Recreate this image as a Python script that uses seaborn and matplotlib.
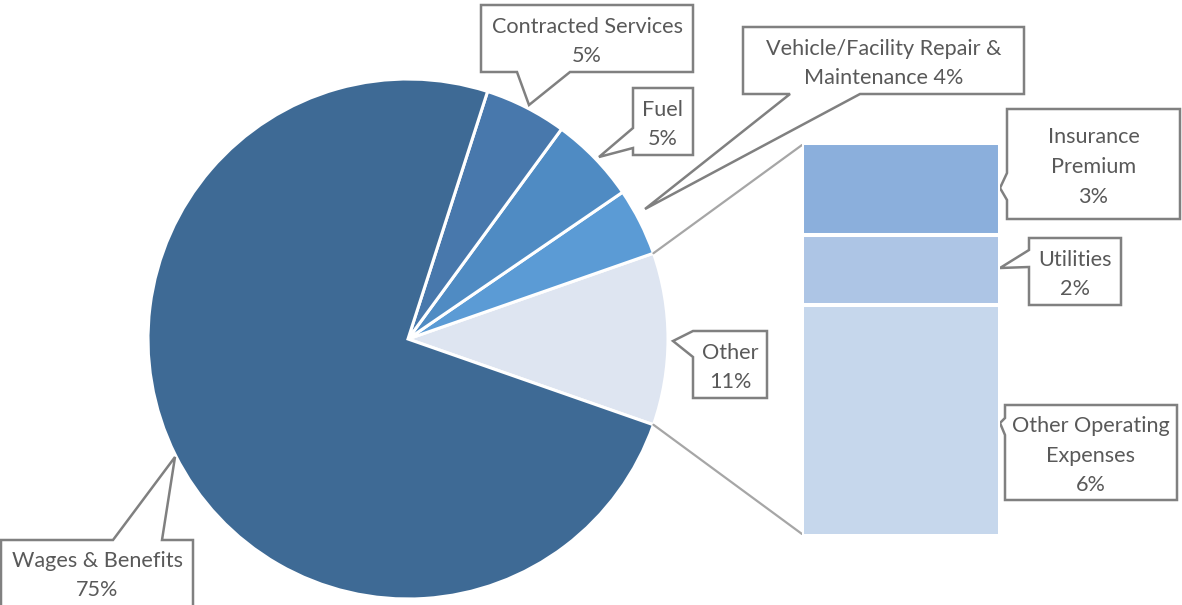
import numpy as np
import matplotlib
matplotlib.use("Agg")
import matplotlib.pyplot as plt
from matplotlib.patches import Polygon
import seaborn as sns

# ---- data ----
pie_labels = ["Other", "Vehicle/Facility Repair &\nMaintenance", "Fuel", "Contracted Services", "Wages & Benefits"]
pie_values = [10.7, 4.2, 5.4, 5.1, 74.6]
pie_seps = ["\n", " ", "\n", "\n", "\n"]
pie_colors = ["#DEE5F1", "#5B9BD5", "#4F8BC3", "#4878AC", "#3E6A95"]

bar_labels = ["Other Operating\nExpenses", "Utilities", "Insurance\nPremium"]
bar_values = [6.3, 1.9, 2.5]
bar_colors = ["#C6D7EC", "#ADC5E5", "#8BAFDC"]

W, H = 1182, 605
sns.set_theme(style="white")
plt.rcParams["font.family"] = ["Lato", "DejaVu Sans"]

fig = plt.figure(figsize=(W / 100, H / 100), dpi=100)
ax = fig.add_axes([0, 0, 1, 1])

cx, cy, R = 408, H - 339, 260
start = -pie_values[0] * 3.6 / 2
ax.pie(pie_values, colors=pie_colors, startangle=start, counterclock=True,
       center=(cx, cy), radius=R,
       wedgeprops=dict(edgecolor="white", linewidth=2.2))
ax.set_xlim(0, W)
ax.set_ylim(0, H)
ax.set_aspect("equal")
ax.axis("off")

# bar of "Other"
bx0, bx1, by_top, by_bot = 804, 998, 145, 534
pad = 2
bax = fig.add_axes([(bx0 - pad) / W, (H - by_bot - pad) / H,
                    (bx1 - bx0 + 2 * pad) / W, (by_bot - by_top + 2 * pad) / H])
cum = np.cumsum(bar_values)
for i in range(len(bar_values) - 1, -1, -1):
    sns.barplot(x=["Other"], y=[cum[i]], color=bar_colors[i], saturation=1,
                width=1, edgecolor="white", linewidth=2.9, ax=bax)
bax.set_xlim(-0.5, 0.5)
bax.set_ylim(0, cum[-1])
bax.axis("off")

# connector lines from pie "Other" slice to bar
half = np.deg2rad(pie_values[0] * 3.6 / 2)
p_top = (cx + R * np.cos(half), cy + R * np.sin(half))
p_bot = (cx + R * np.cos(-half), cy + R * np.sin(-half))
ax.plot([p_top[0], bx0 - 2], [p_top[1], H - by_top], color="#A6A6A6", lw=1.6)
ax.plot([p_bot[0], bx0 - 2], [p_bot[1], H - by_bot], color="#A6A6A6", lw=1.6)


def callout(box, edge, base, tip, text):
    x0, y0, x1, y1 = box
    a, b = base
    pts = [(x0, y0)]
    if edge == "top":
        pts += [(a, y0), tip, (b, y0)]
    pts += [(x1, y0), (x1, y1)]
    if edge == "bottom":
        pts += [(b, y1), tip, (a, y1)]
    pts += [(x0, y1)]
    if edge == "left":
        pts += [(x0, b), tip, (x0, a)]
    pts = [(px, H - py) for px, py in pts]
    ax.add_patch(Polygon(pts, closed=True, facecolor="white", edgecolor="#808080",
                         lw=1.8, zorder=5, clip_on=True))
    ax.text((x0 + x1) / 2, H - (y0 + min(y1, H)) / 2 - 3, text, ha="center", va="center",
            fontsize=15.6, color="#595959", linespacing=1.6, zorder=6)


def pct(v):
    return f"{int(v + 0.5)}%"


texts = [l + s + pct(v) for l, s, v in zip(pie_labels, pie_seps, pie_values)]
btexts = [l + "\n" + pct(v) for l, v in zip(bar_labels, bar_values)]

callout((693, 331, 767, 398), "left", (331, 357), (673, 341), texts[0])
callout((743, 27, 1024, 94), "bottom", (790, 860), (645, 209), texts[1])
callout((633, 88, 693, 155), "left", (128, 148), (599, 157), texts[2])
callout((481, 5, 693, 72), "bottom", (517, 570), (529, 105), texts[3])
callout((1, 540, 193, 612), "top", (113, 162), (175, 457), texts[4])
callout((1005, 405, 1177, 500), "left", (418, 435), (1000, 423), btexts[0])
callout((1029, 238, 1121, 305), "left", (250, 267), (1000, 268), btexts[1])
callout((1007, 109, 1180, 219), "left", (173, 200), (1000, 188), btexts[2])

fig.savefig("out.png", dpi=100)
